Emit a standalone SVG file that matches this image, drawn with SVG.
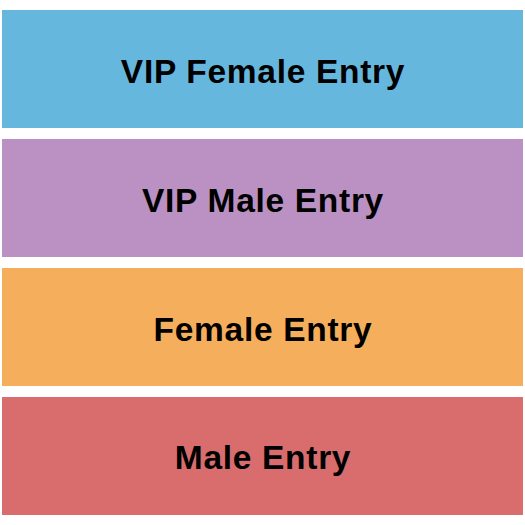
<svg xmlns="http://www.w3.org/2000/svg" width="525" height="525" viewBox="0 0 525 525">
<style>
.t{font-family:"Liberation Sans",Arial,sans-serif;font-weight:bold;font-size:33.5px;letter-spacing:0.7px;fill:#000;text-anchor:middle}
</style>
<rect width="525" height="525" fill="#fff"/>
<g id="vip-female"><rect x="2" y="10" width="521" height="118" fill="#66b7dd"/><text class="t" x="263" y="83">VIP Female Entry</text></g>
<g id="vip-male"><rect x="2" y="139" width="521" height="118" fill="#bb91c3"/><text class="t" x="263" y="212">VIP Male Entry</text></g>
<g id="female"><rect x="2" y="268" width="521" height="118" fill="#f5ae5b"/><text class="t" x="263" y="341">Female Entry</text></g>
<g id="male"><rect x="2" y="397" width="521" height="118" fill="#d96d6d"/><text class="t" x="263" y="469">Male Entry</text></g>
<g id="connectors"/>
</svg>
